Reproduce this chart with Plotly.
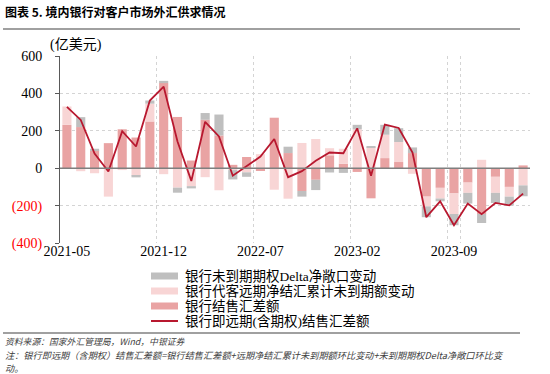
import plotly.graph_objects as go

# ---------------- data ----------------
months = [
    "2021-05", "2021-06", "2021-07", "2021-08", "2021-09", "2021-10", "2021-11", "2021-12",
    "2022-01", "2022-02", "2022-03", "2022-04", "2022-05", "2022-06", "2022-07", "2022-08",
    "2022-09", "2022-10", "2022-11", "2022-12", "2023-01", "2023-02", "2023-03", "2023-04",
    "2023-05", "2023-06", "2023-07", "2023-08", "2023-09", "2023-10", "2023-11", "2023-12",
    "2024-01", "2024-02",
]
# 银行结售汇差额
settle = [232, 220, 96, 134, 208, 164, 250, 455, 274, 41, 259, 175, 18, 60, -15, 270,
          81, -122, -62, 69, 24, -20, -161, 54, 33, 81, -152, -105, -135, -77, -245, -46,
          -100, 15]
# 银行代客远期净结汇累计未到期额变动
forward = [98, -16, -27, -152, -10, -40, 95, -32, -104, -96, -48, -118, -10, -22, 75, -115,
           -163, 135, 156, 38, 80, 208, 113, 125, 107, -30, -52, -57, -110, -55, 45, -86,
           -52, -92]
# 银行未到期期权Delta净敞口变动
delta = [0, 53, 8, 0, 0, -9, 17, 12, -27, -12, 36, 112, -50, -24, 0, 0,
         34, -30, -55, -23, -25, 24, 5, 53, 74, 30, -58, -15, -60, -57, -48, -54,
         -48, -58]
# 银行即远期(含期权)结售汇差额
total = [328, 258, 78, -18, 198, 116, 362, 436, 143, -68, 248, 170, -40, 10, 62, 156,
         -48, -16, 40, 84, 80, 213, -40, 233, 215, 84, -262, -177, -305, -189, -246, -186,
         -199, -136]

names = ["银行未到期期权Delta净敞口变动", "银行代客远期净结汇累计未到期额变动",
         "银行结售汇差额", "银行即远期(含期权)结售汇差额"]
x_tickvals = ["2021-05", "2021-12", "2022-07", "2023-02", "2023-09"]
y_tickvals = [-400, -200, 0, 200, 400, 600]
y_ticktext = ["<span style='color:#ff0000'>(400)</span>",
              "<span style='color:#ff0000'>(200)</span>", "0", "200", "400", "600"]

# ---------------- styling ----------------
C_GRAY = "#bfbfbf"
C_LIGHT = "#f8d5d5"
C_DARK = "#e9a3a3"
C_LINE = "#b8182f"
SERIF = "Liberation Serif, Noto Sans CJK SC, serif"
CJK = "Noto Sans CJK SC, sans-serif"

W, H = 550, 374
L, R, T, B = 60, 530, 56, 243


def fx(p):
    return (p - L) / (R - L)


def fy(p):
    return (B - p) / (B - T)


fig = go.Figure()
fig.add_trace(go.Bar(x=months, y=settle, name=names[2], marker_color=C_DARK,
                     marker_line_width=0, showlegend=False))
fig.add_trace(go.Bar(x=months, y=forward, name=names[1], marker_color=C_LIGHT,
                     marker_line_width=0, showlegend=False))
fig.add_trace(go.Bar(x=months, y=delta, name=names[0], marker_color=C_GRAY,
                     marker_line_width=0, showlegend=False))
fig.add_trace(go.Scatter(x=months, y=total, name=names[3], mode="lines",
                         line=dict(color=C_LINE, width=1.8), showlegend=False))

shapes = [
    # zero axis line
    dict(type="line", xref="paper", yref="y", x0=0, x1=1, y0=0, y1=0,
         line=dict(color="#7f7f7f", width=1.5), layer="above"),
    # title underline
    dict(type="line", xref="paper", yref="paper", x0=fx(3), x1=fx(520), y0=fy(29), y1=fy(29),
         line=dict(color="#808080", width=1.5)),
    # footer line
    dict(type="line", xref="paper", yref="paper", x0=fx(3), x1=fx(520), y0=fy(333), y1=fy(333),
         line=dict(color="#808080", width=1.5)),
]
annotations = [
    dict(text="<b>图表 5. 境内银行对客户市场外汇供求情况</b>", xref="paper", yref="paper",
         x=fx(3), y=fy(12), xanchor="left", yanchor="middle", showarrow=False,
         font=dict(family=CJK, size=12, color="#000000")),
    dict(text="(亿美元)", xref="paper", yref="paper", x=fx(76), y=fy(45),
         xanchor="center", yanchor="middle", showarrow=False,
         font=dict(family=SERIF, size=14, color="#000000")),
    dict(text="<i>资料来源：国家外汇管理局，Wind，中银证券</i>", xref="paper", yref="paper",
         x=fx(4), y=fy(341), xanchor="left", yanchor="middle", showarrow=False,
         borderpad=0, font=dict(family=CJK, size=8.8, color="#404040")),
    dict(text="<i>注：银行即远期（含期权）结售汇差额=银行结售汇差额+远期净结汇累计未到期额环比变动+未到期期权Delta净敞口环比变</i>",
         xref="paper", yref="paper", align="left", borderpad=0,
         x=fx(4), y=fy(354.5), xanchor="left", yanchor="middle", showarrow=False,
         font=dict(family=CJK, size=9.2, color="#404040")),
    dict(text="<i>动。</i>",
         xref="paper", yref="paper", align="left", borderpad=0,
         x=fx(4), y=fy(367.5), xanchor="left", yanchor="middle", showarrow=False,
         font=dict(family=CJK, size=9.2, color="#404040")),
]

# custom legend (wide swatches, tight rows like the reference)
rows = [276, 291, 306, 321]
swatch_colors = [C_GRAY, C_LIGHT, C_DARK, C_LINE]
for i, (nm, col, ry) in enumerate(zip(names, swatch_colors, rows)):
    if i < 3:
        shapes.append(dict(type="rect", xref="paper", yref="paper",
                           x0=fx(151), x1=fx(178), y0=fy(ry + 3.5), y1=fy(ry - 3.5),
                           fillcolor=col, line=dict(width=0)))
    else:
        shapes.append(dict(type="line", xref="paper", yref="paper",
                           x0=fx(151), x1=fx(178), y0=fy(ry), y1=fy(ry),
                           line=dict(color=col, width=2)))
    annotations.append(dict(text=nm, xref="paper", yref="paper", x=fx(183), y=fy(ry),
                            xanchor="left", yanchor="middle", showarrow=False,
                            font=dict(family=SERIF, size=13.5, color="#000000")))

fig.update_layout(
    width=W, height=H,
    margin=dict(l=L, r=W - R, t=T, b=H - B, pad=0),
    paper_bgcolor="#ffffff", plot_bgcolor="#ffffff",
    barmode="relative", bargap=0.34,
    showlegend=False,
    font=dict(family=SERIF, size=14, color="#000000"),
    shapes=shapes, annotations=annotations,
    xaxis=dict(type="category", categoryorder="array", categoryarray=months,
               range=[-0.5, len(months) - 0.5],
               tickmode="array", tickvals=x_tickvals, ticktext=x_tickvals,
               tickson="boundaries", ticks="", showline=False,
               showgrid=True, gridcolor="#d4d4d4", griddash="dot", gridwidth=1,
               ticklabelstandoff=-2,
               tickfont=dict(family=SERIF, size=14, color="#000000"), tickangle=0),
    yaxis=dict(range=[-400, 600], tickmode="array", tickvals=y_tickvals, ticktext=y_ticktext,
               showgrid=True, gridcolor="#d4d4d4", griddash="dot", gridwidth=1,
               zeroline=False, showline=True, linecolor="#595959", linewidth=1,
               ticks="outside", ticklen=4, tickcolor="#595959",
               ticklabelstandoff=10,
               tickfont=dict(family=SERIF, size=14, color="#000000")),
)

fig.write_html("out.html", config={"displayModeBar": False},
               post_script="document.body.style.margin='0';document.body.style.padding='0';")
